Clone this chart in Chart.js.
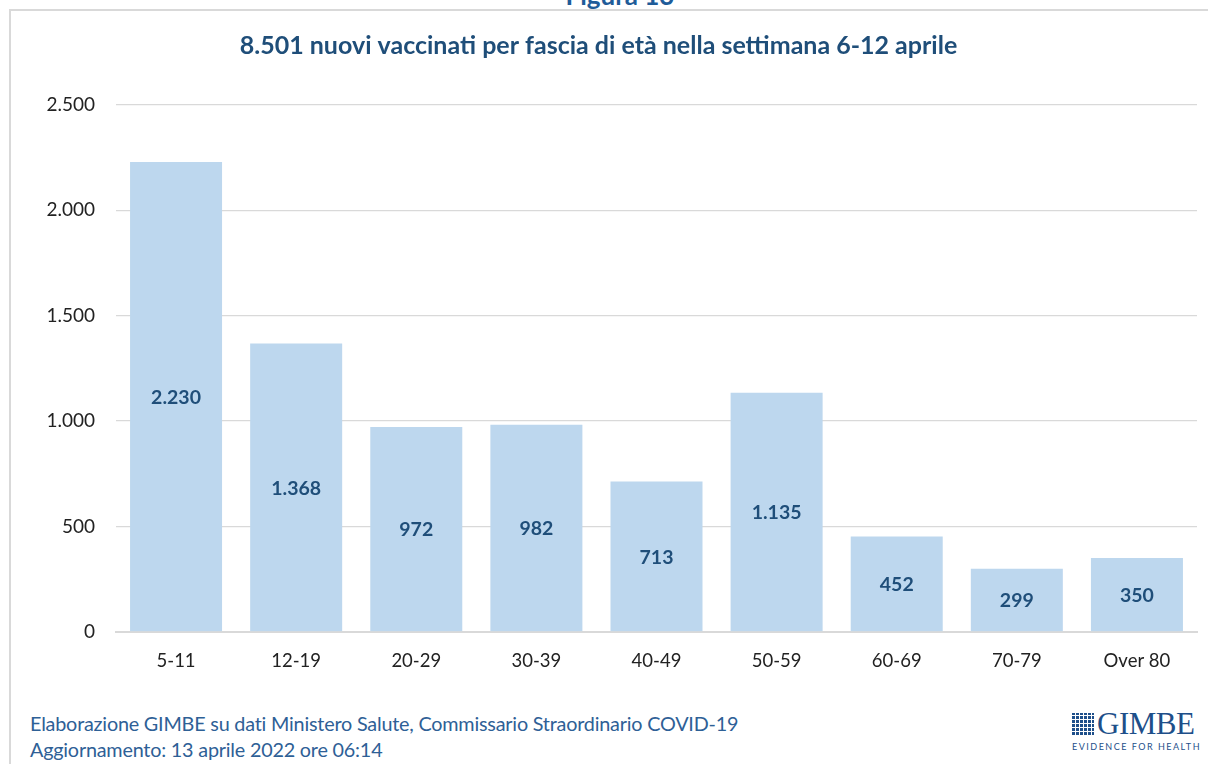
<!DOCTYPE html>
<html>
<head>
<meta charset="utf-8">
<script src="https://cdn.jsdelivr.net/npm/chart.js@4.4.1/dist/chart.umd.min.js"></script>
<style>
body{margin:0;background:#fff;width:1208px;height:764px;overflow:hidden;position:relative;font-family:Lato,"Open Sans",sans-serif;}
#cornice{position:absolute;left:9px;top:9px;right:-5px;bottom:-5px;border-left:2px solid #d9d9d9;border-top:2px solid #d9d9d9;}
#figura{position:absolute;left:0;width:1240px;top:-21px;text-align:center;font-weight:bold;font-size:26px;color:#1f5c99;}
#box{position:absolute;left:0;top:0;width:1208px;height:700px;}
#fonte{position:absolute;left:30px;top:710px;font-size:19.8px;line-height:26px;color:#2e6096;letter-spacing:-0.2px;}
#logo{position:absolute;left:1072px;top:710px;width:122px;color:#1e4f8a;white-space:nowrap;}
#logo .nome{font-family:"Liberation Serif",serif;font-size:31px;line-height:28px;letter-spacing:-0.5px;display:flex;align-items:center;}
#logo .griglia{width:22px;height:22px;margin-right:3px;flex:none;background:
repeating-linear-gradient(90deg,#1e4f8a 0 3px,#fff 3px 4px),#1e4f8a;
-webkit-mask:repeating-linear-gradient(0deg,#000 0 3px,transparent 3px 4px);}
#logo .motto{font-size:9px;letter-spacing:1.5px;margin-top:3px;}
</style>
</head>
<body>
<div id="cornice"></div>
<div id="figura">Figura 13</div>
<div id="box"><canvas id="grafico"></canvas></div>
<div id="fonte">Elaborazione GIMBE su dati Ministero Salute, Commissario Straordinario COVID-19<br>Aggiornamento: 13 aprile 2022 ore 06:14</div>
<div id="logo"><div class="nome"><span class="griglia"></span>GIMBE</div><div class="motto">EVIDENCE FOR HEALTH</div></div>
<script>
const fasce = ["5-11","12-19","20-29","30-39","40-49","50-59","60-69","70-79","Over 80"];
const vaccinati = [2230,1368,972,982,713,1135,452,299,350];
const titolo = "8.501 nuovi vaccinati per fascia di età nella settimana 6-12 aprile";

function formatta(n){
return String(n).replace(/\B(?=(\d{3})+(?!\d))/g,".");
}

const etichetteBarre = {
id:"etichetteBarre",
afterDatasetsDraw(chart){
const ctx = chart.ctx;
const meta = chart.getDatasetMeta(0);
ctx.save();
ctx.font = "bold 19.5px Lato, sans-serif";
ctx.fillStyle = "#1f4e79";
ctx.textAlign = "center";
ctx.textBaseline = "middle";
meta.data.forEach((barra,i)=>{
const y = (barra.y + barra.base) / 2;
ctx.fillText(formatta(vaccinati[i]), barra.x, y + 1);
});
ctx.restore();
}
};

new Chart(document.getElementById("grafico"),{
type:"bar",
data:{
labels:fasce,
datasets:[{
data:vaccinati,
backgroundColor:"#bdd7ee",
barPercentage:0.766,
categoryPercentage:1
}]
},
options:{
responsive:true,
maintainAspectRatio:false,
animation:false,
layout:{padding:{left:0,right:11,bottom:18}},
plugins:{
legend:{display:false},
tooltip:{enabled:false},
title:{
display:true,
text:titolo,
color:"#1f4e79",
font:{family:"Lato",size:25,weight:"bold",lineHeight:1.2},
padding:{top:31,bottom:44}
}
},
scales:{
x:{
grid:{display:false},
border:{color:"#d9d9d9",width:2},
ticks:{color:"#222",font:{family:"Lato",size:18.5},padding:10}
},
y:{
min:0,
max:2500,
afterFit(scala){ scala.width = 116; },
border:{display:false},
grid:{color:"#d9d9d9",lineWidth:1.3,drawTicks:false},
ticks:{
stepSize:500,
color:"#222",
padding:21,
font:{family:"Lato",size:19},
callback:v=>formatta(v)
}
}
}
},
plugins:[etichetteBarre]
});
</script>
</body>
</html>
